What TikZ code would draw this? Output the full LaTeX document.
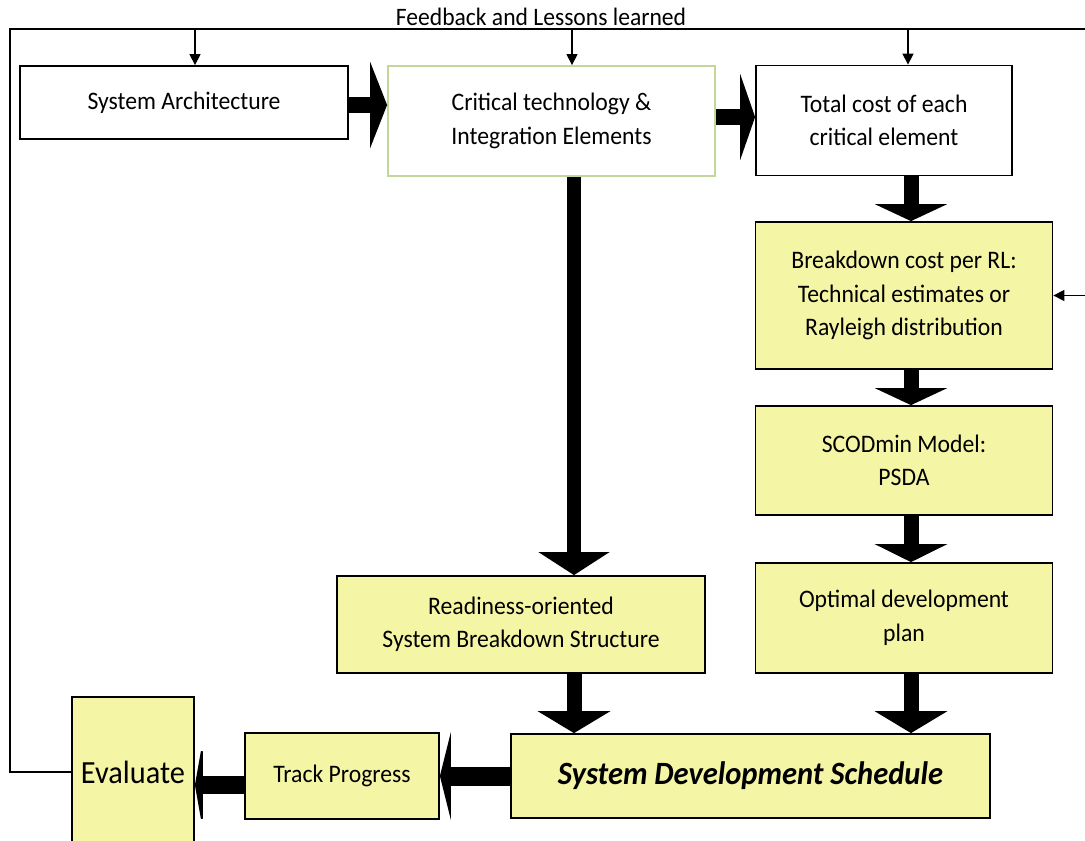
\documentclass[tikz,border=0pt]{standalone}
\usepackage{fontspec}
\setmainfont{Carlito}[FakeStretch=0.94]
\usetikzlibrary{arrows.meta,calc}
\definecolor{yfill}{RGB}{245,245,166}
\definecolor{gborder}{RGB}{195,214,155}
\begin{document}
\begin{tikzpicture}[x=1pt,y=-1pt,
  box/.style={draw=black,line width=1.8pt,fill=white,inner sep=0pt,align=center,
    font=\fontsize{25.2}{33.5}\selectfont},
  ybox/.style={box,fill=yfill},
  fatv/.style={line width=15pt,-{Triangle[width=72pt,length=#1]}},
  fath/.style={line width=16pt,-{Triangle[width=86pt,length=#1]}},
  thinarrow/.style={line width=1.4pt,-{Triangle[width=11pt,length=11pt]}},
  fbline/.style={line width=1.4pt}
]
\useasboundingbox (0,0) rectangle (1085,841);
% boxes
\node[box,minimum width=328pt,minimum height=73pt] (sysarch) at (184,102.5) {System Architecture};
\node[box,draw=gborder,minimum width=327pt,minimum height=110pt] (crit) at (551.5,121) {Critical technology \&\\Integration Elements};
\node[box,minimum width=256pt,minimum height=110pt] (total) at (884,120.5) {Total cost of each\\critical element};
\node[ybox,minimum width=297pt,minimum height=147pt] (brk) at (904,295.5) {Breakdown cost per RL:\\Technical estimates or\\Rayleigh distribution};
\node[ybox,minimum width=297pt,minimum height=109pt] (scod) at (904,460.5) {SCODmin Model:\\PSDA};
\node[ybox,minimum width=297pt,minimum height=110pt] (opt) at (904,618) {Optimal development\\plan};
\node[ybox,minimum width=368pt,minimum height=97pt] (read) at (521,624.5) {Readiness-oriented\\System Breakdown Structure};
\node[ybox,minimum width=479pt,minimum height=84pt,font=\fontsize{32.5}{33}\selectfont\bfseries\itshape] (sds) at (750.5,776) {System Development Schedule};
\node[ybox,minimum width=194pt,minimum height=86pt] (track) at (342,776) {Track Progress};
\node[ybox,minimum width=122pt,minimum height=150pt,font=\fontsize{32.3}{33}\selectfont] (eval) at (133,772) {Evaluate};
% column coordinates
\coordinate (colM) at (574,0);
\coordinate (colR) at (911,0);
\coordinate (fbL) at (10,29);
\coordinate (fbR) at (1085,29);
% feedback line
\draw[fbline] (fbR) -- (fbL) -- (fbL |- eval.west) -- (eval.west);
\node[font=\fontsize{25.1}{28}\selectfont,anchor=base] (fbtext) at (541,25) {Feedback and Lessons learned};
\draw[thinarrow] ($(sysarch.north |- fbL)+(11,0)$) -- ($(sysarch.north)+(11,0)$);
\draw[thinarrow] ($(crit.north |- fbL)+(20.5,0)$) -- ($(crit.north)+(20.5,0)$);
\draw[thinarrow] ($(total.north |- fbL)+(24,0)$) -- ($(total.north)+(24,0)$);
\draw[thinarrow] (brk.east -| fbR) -- (brk.east);
% fat arrows
\draw[fath=17pt] ($(sysarch.east)+(0,2.5)$) -- ($(crit.west |- sysarch.east)+(0,2.5)$);
\draw[fath=15pt] ($(crit.east)+(0,-4)$) -- ($(total.west |- crit.east)+(0,-4)$);
\draw[fatv=17pt] (total.south -| colR) -- (brk.north -| colR);
\draw[fatv=17pt] (brk.south -| colR) -- (scod.north -| colR);
\draw[fatv=18pt] (scod.south -| colR) -- (opt.north -| colR);
\draw[fatv=22pt] (opt.south -| colR) -- (sds.north -| colR);
\draw[line width=14pt,-{Triangle[width=70pt,length=23pt]}] (crit.south -| colM) -- (read.north -| colM);
\draw[fatv=22pt] (read.south -| colM) -- (sds.north -| colM);
\draw[line width=19pt,-{Triangle[width=88pt,length=11pt]}] (sds.west) -- (track.east);
\draw[line width=18pt,-{Triangle[width=90pt,length=8pt]}] ($(track.west)+(0,9)$) -- ($(eval.east)+(0,13)$);
\end{tikzpicture}
\end{document}
